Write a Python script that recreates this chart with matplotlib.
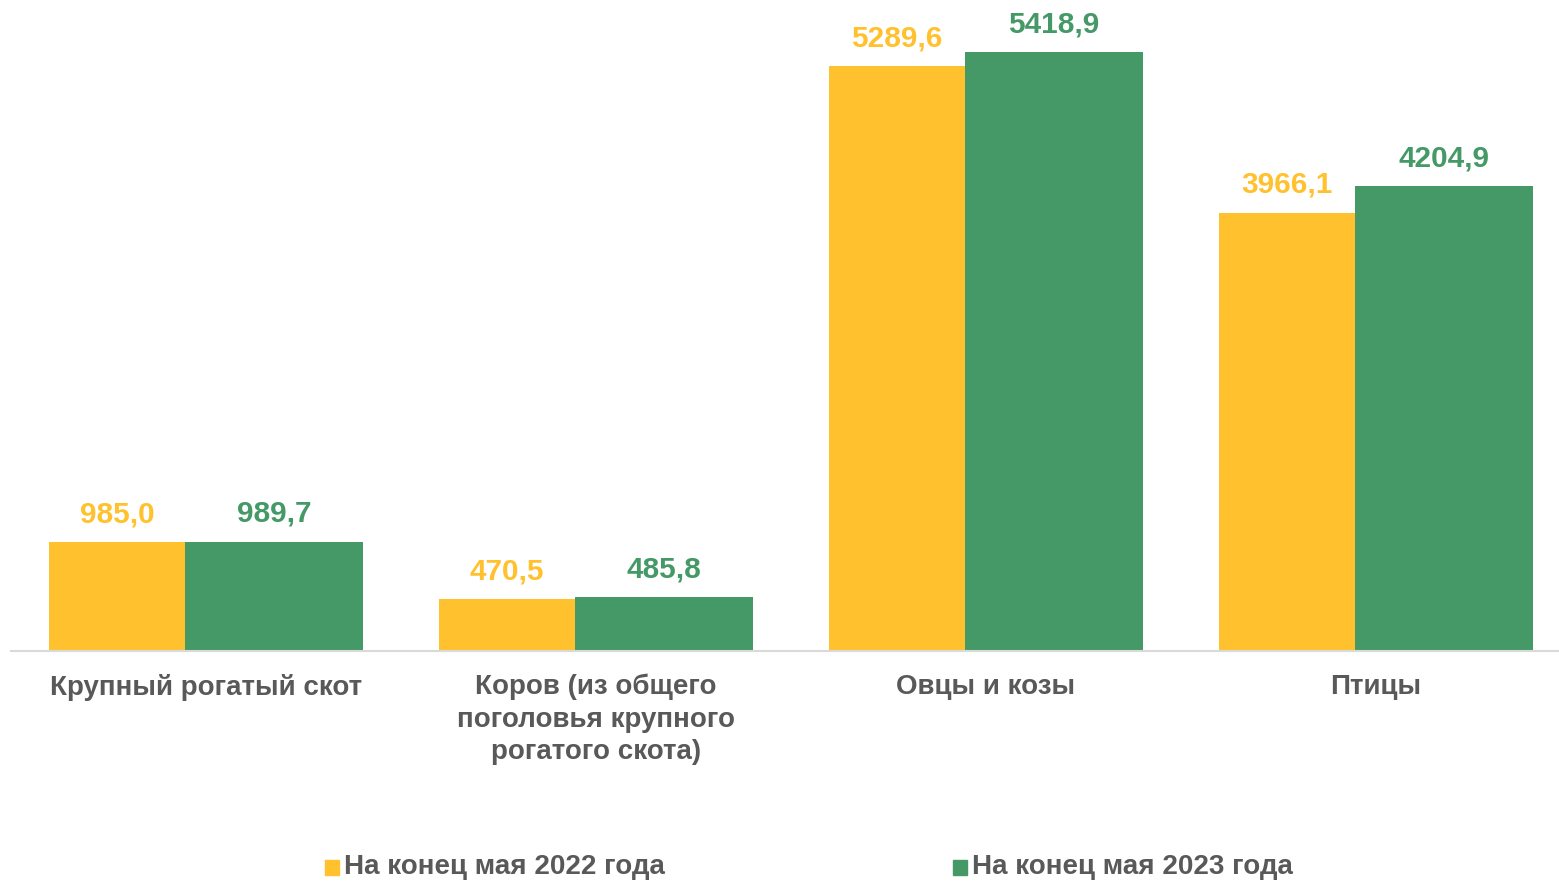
import matplotlib
matplotlib.use('Agg')
import matplotlib.pyplot as plt
import numpy as np
from matplotlib.patches import Rectangle

categories = ["Крупный рогатый скот",
              "Коров (из общего\nпоголовья крупного\nрогатого скота)",
              "Овцы и козы",
              "Птицы"]
series_names = ["На конец мая 2022 года", "На конец мая 2023 года"]
values_2022 = [985.0, 470.5, 5289.6, 3966.1]
values_2023 = [989.7, 485.8, 5418.9, 4204.9]

YELLOW = '#FFC12E'
GREEN = '#449966'
GRAY = '#595959'

plt.rcParams['font.family'] = ['Liberation Sans', 'DejaVu Sans']

fig = plt.figure(figsize=(15.59, 8.81), dpi=100)
ax = fig.add_axes([11 / 1559, 1 - 651 / 881, 1560 / 1559, 651 / 881])

x = np.arange(len(categories))
w1, w2 = 0.349, 0.456
left = x - 0.403
bars1 = ax.bar(left, values_2022, w1, align='edge', color=YELLOW)
bars2 = ax.bar(left + w1, values_2023, w2, align='edge', color=GREEN)

def fmt(v):
    return f"{v:.1f}".replace('.', ',')

for bars, vals, col in ((bars1, values_2022, YELLOW), (bars2, values_2023, GREEN)):
    for b, v in zip(bars, vals):
        ax.annotate(fmt(v), xy=(b.get_x() + b.get_width() / 2, v),
                    xytext=(0, 20), textcoords='offset points',
                    ha='center', va='center', color=col,
                    fontsize=21.4, fontweight='bold')

ax.set_xlim(-0.5, 3.5)
ax.set_ylim(0, 5890)
for s in ['top', 'right', 'left']:
    ax.spines[s].set_visible(False)
ax.spines['bottom'].set_color('#D9D9D9')
ax.spines['bottom'].set_linewidth(1.5)
ax.set_yticks([])
ax.set_xticks(x)
ax.set_xticklabels(categories, fontsize=20, fontweight='bold', color=GRAY,
                   linespacing=1.32)
ax.tick_params(axis='x', length=0, pad=16.5)
for lbl in ax.get_xticklabels():
    lbl.set_verticalalignment('top')

# legend
legend_x = [325, 953]
for px, name, col in zip(legend_x, series_names, [YELLOW, GREEN]):
    fig.add_artist(Rectangle((px / 1559, 1 - 875 / 881), 14 / 1559, 15 / 881,
                             transform=fig.transFigure, color=col))
    fig.text((px + 19) / 1559, 1 - 874 / 881, name, fontsize=20, fontweight='bold',
             color=GRAY, va='baseline', ha='left')

fig.savefig('out.png', dpi=100)
